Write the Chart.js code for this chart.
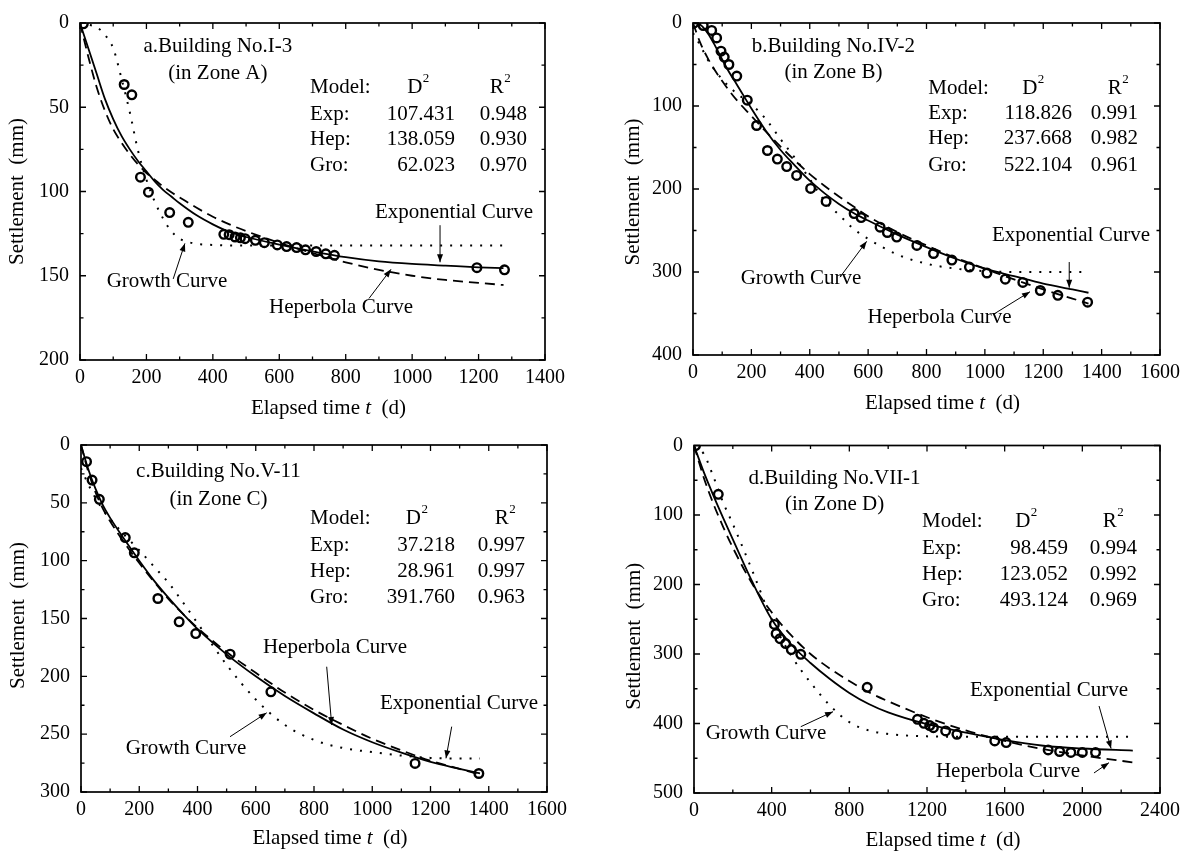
<!DOCTYPE html>
<html>
<head>
<meta charset="utf-8">
<title>Settlement versus elapsed time</title>
<script src="https://cdn.jsdelivr.net/npm/chart.js@4.4.1/dist/chart.umd.min.js"></script>
<style>
  html, body { margin: 0; padding: 0; background: #ffffff; }
  body { width: 1192px; height: 858px; position: relative; overflow: hidden; }
  canvas { position: absolute; }
</style>
</head>
<body>
<canvas id="panelA" width="596" height="430" style="left:0px;top:0px"></canvas>
<canvas id="panelB" width="596" height="430" style="left:596px;top:0px"></canvas>
<canvas id="panelC" width="596" height="438" style="left:0px;top:420px"></canvas>
<canvas id="panelD" width="596" height="438" style="left:596px;top:420px"></canvas>
<script>
// ---------- measured settlement (t in days, s in mm) ----------
const obsTimeA   = [10, 133, 156, 182, 206, 270, 326, 433, 449, 467, 483, 497, 528, 555, 594, 622, 652, 679, 711, 740, 766, 1195, 1278];
const obsSettleA = [0.5, 36.5, 42.6, 91.5, 100.4, 112.5, 118.3, 125.4, 125.6, 127, 127.5, 128, 129, 130.4, 131.7, 132.7, 133.3, 134.6, 135.6, 137, 137.9, 145.2, 146.5];

const obsTimeB   = [3, 35, 64, 81, 96, 107, 123, 150, 186, 218, 255, 289, 321, 355, 403, 456, 552, 576, 641, 666, 698, 767, 824, 887, 947, 1007, 1070, 1130, 1190, 1250, 1352];
const obsSettleB = [0, 3, 9, 18, 34, 41, 50, 64, 93, 123.5, 153.6, 164, 173, 183.6, 199.3, 215, 229.6, 234.4, 246, 252.4, 257.9, 268, 277.7, 285.6, 294, 301.2, 308.6, 312.5, 322.3, 328.1, 336.3];

const obsTimeC   = [19, 38, 63, 152, 183, 264, 337, 394, 512, 652, 1147, 1366];
const obsSettleC = [14.4, 30.3, 47, 80, 93.2, 132.7, 152.9, 163, 180.8, 213.4, 275.3, 284];

const obsTimeD   = [8, 125, 414, 423, 443, 472, 501, 550, 892, 1151, 1184, 1214, 1233, 1296, 1354, 1549, 1608, 1824, 1883, 1941, 2000, 2068];
const obsSettleD = [0, 70.2, 257.4, 270.8, 278, 285, 293.7, 300.4, 348, 394, 399.7, 403, 406, 410.7, 415.5, 425, 427.4, 438, 440.3, 441.7, 441.7, 441.7];

// ---------- fitted curves: exponential, hyperbola, growth ----------
const fitTimeA = [0, 25, 50, 75, 100, 125, 150, 175, 200, 225, 250, 275, 300, 350, 400, 450, 500, 600, 700, 800, 900, 1000, 1100, 1200, 1275];
const expA = [0, 15, 30, 45, 57, 67, 75, 82, 88, 94, 99, 103, 107, 114, 119.5, 124, 127, 131.5, 135.5, 139, 141.5, 143, 144, 145, 145.5];
const hepA = [0, 20, 38, 52, 63, 71, 78, 84, 89, 93, 97, 100.5, 103.5, 109.5, 115, 119.5, 123.5, 130.5, 136.5, 142, 146.5, 150, 152.5, 154.2, 155.5];
const groA = [0.3, 1, 2.5, 7, 15, 33, 53, 76, 93, 106, 116, 123.5, 128, 131, 131.7, 132, 132, 132, 132, 132, 132, 132, 132, 132, 132];

const fitTimeB = [0, 25, 50, 75, 100, 125, 150, 200, 250, 300, 350, 400, 450, 500, 550, 600, 700, 800, 900, 1000, 1100, 1200, 1300, 1355];
const expB = [0, 2, 12, 27, 44, 60, 74, 103, 130, 153, 172, 190, 205, 218, 229, 238, 255, 270, 284, 296, 305, 314, 321, 325];
const hepB = [0, 24, 42, 57, 70, 82, 93, 112, 131, 149, 166, 182, 196, 209, 221, 233, 252, 268, 283, 296, 309, 321, 332, 338];
const groB = [12, 27, 44, 57, 68, 77, 85, 98, 116, 140, 163, 188, 214, 231, 248, 260, 279, 290, 296, 299, 300, 300, 300, 300];

const fitTimeC = [0, 25, 50, 75, 100, 150, 200, 250, 300, 350, 400, 500, 600, 700, 800, 900, 1000, 1100, 1200, 1300, 1370];
const expC = [0, 21, 38, 52, 63, 82, 100, 117, 132, 146, 159, 181, 200, 217, 232, 246, 257, 266, 274, 280, 284];
const hepC = [0, 23, 41, 55, 66, 85, 102, 118, 133, 146, 158, 179, 197, 214, 229, 242, 254, 264, 273, 280, 285];
const groC = [20, 34, 46, 56, 64, 78, 91, 105, 119, 136, 154, 190, 220, 242, 255, 262, 265.5, 268.5, 270.5, 271, 271];

const fitTimeD = [0, 50, 100, 150, 200, 300, 400, 500, 600, 700, 800, 900, 1000, 1200, 1400, 1600, 1800, 2000, 2260];
const expD = [0, 38, 72, 104, 135, 196, 250, 286, 313, 336, 356, 372, 384, 401, 413, 424, 432, 436, 439];
const hepD = [0, 46, 84, 117, 147, 199, 240, 273, 300, 321, 339, 355, 368, 391, 410, 425, 437, 446, 456];
const groD = [2, 12, 45, 82, 113, 180, 250, 302, 341, 374, 398, 410, 415, 418.5, 419, 419, 419, 419, 419];

// ---------- axis ticks ----------
const xTicksA = [0, 200, 400, 600, 800, 1000, 1200, 1400];
const yTicksA = [0, 50, 100, 150, 200];
const xTicksB = [0, 200, 400, 600, 800, 1000, 1200, 1400, 1600];
const yTicksB = [0, 100, 200, 300, 400];
const xTicksC = [0, 200, 400, 600, 800, 1000, 1200, 1400, 1600];
const yTicksC = [0, 50, 100, 150, 200, 250, 300];
const xTicksD = [0, 400, 800, 1200, 1600, 2000, 2400];
const yTicksD = [0, 100, 200, 300, 400, 500];

// ---------- fit statistics ----------
const modelNames = ['Exp:', 'Hep:', 'Gro:'];
const d2A = ['107.431', '138.059', '62.023'];
const r2A = ['0.948', '0.930', '0.970'];
const d2B = ['118.826', '237.668', '522.104'];
const r2B = ['0.991', '0.982', '0.961'];
const d2C = ['37.218', '28.961', '391.760'];
const r2C = ['0.997', '0.997', '0.963'];
const d2D = ['98.459', '123.052', '493.124'];
const r2D = ['0.994', '0.992', '0.969'];

// ---------- captions ----------
const titleA = ['a.Building No.I-3', '(in Zone A)'];
const titleB = ['b.Building No.IV-2', '(in Zone B)'];
const titleC = ['c.Building No.V-11', '(in Zone C)'];
const titleD = ['d.Building No.VII-1', '(in Zone D)'];
const curveNames = { exp: 'Exponential Curve', hep: 'Heperbola Curve', gro: 'Growth Curve' };

// ---------- layout (page pixels) and annotation anchors (data units) ----------
const FONT = '"Liberation Serif", "Times New Roman", Times, serif';

const panels = [
  {
    id: 'panelA', box: [0, 0, 596, 430], area: [80, 13.3, 545, 360], xMax: 1400, yMax: 200,
    xTicks: xTicksA, yTicks: yTicksA,
    obs: [obsTimeA, obsSettleA], fit: [fitTimeA, expA, hepA, groA],
    title: titleA, stats: [d2A, r2A],
    titleAt: { t: 415, s: [14.2, 29.8] },
    tableAt: { t: 692.5, dCol: 1017.6, rCol: 1264.5, dRight: 1129, rRight: 1345.8, s: [38.5, 54.1, 69.1, 84.6] },
    notes: [
      { key: 'exp', t: 1126, s: 112.3, tail: [1084, 120], head: [1084, 142] },
      { key: 'gro', t: 262, s: 153.3, tail: [280.6, 151.9], head: [315.8, 130.8] },
      { key: 'hep', t: 785.8, s: 168.7, tail: [870, 163.5], head: [936.3, 146.2] }
    ],
    yTitle: { dx: -63, dy: 0 }, xTitle: { dx: 16, dy: 48 }
  },
  {
    id: 'panelB', box: [596, 0, 596, 430], area: [693, 14, 1160, 355], xMax: 1600, yMax: 400,
    xTicks: xTicksB, yTicks: yTicksB,
    obs: [obsTimeB, obsSettleB], fit: [fitTimeB, expB, hepB, groB],
    title: titleB, stats: [d2B, r2B],
    titleAt: { t: 481, s: [28.2, 59.8] },
    tableAt: { t: 806, dCol: 1165, rCol: 1456, dRight: 1298.5, rRight: 1524.6, s: [78.6, 109.1, 139.6, 171.3] },
    notes: [
      { key: 'exp', t: 1295, s: 256, tail: [1289, 288], head: [1289, 319] },
      { key: 'gro', t: 370, s: 308.2, tail: [503.6, 306.2], head: [595, 263.1] },
      { key: 'hep', t: 844.5, s: 355.1, tail: [1028.9, 351.1], head: [1154.6, 323.8] }
    ],
    yTitle: { dx: -60, dy: 3 }, xTitle: { dx: 16, dy: 48 }
  },
  {
    id: 'panelC', box: [0, 420, 596, 438], area: [81, 445, 547, 792], xMax: 1600, yMax: 300,
    xTicks: xTicksC, yTicks: yTicksC,
    obs: [obsTimeC, obsSettleC], fit: [fitTimeC, expC, hepC, groC],
    title: titleC, stats: [d2C, r2C],
    titleAt: { t: 472, s: [23.1, 46.9] },
    tableAt: { t: 786.3, dCol: 1152.6, rCol: 1455.8, dRight: 1284, rRight: 1524.5, s: [63.4, 86.5, 109.5, 132] },
    notes: [
      { key: 'hep', t: 872, s: 174.9, tail: [843.6, 191.7], head: [860.8, 242.1] },
      { key: 'exp', t: 1297.9, s: 223.3, tail: [1272.8, 243.5], head: [1253.2, 270.9] },
      { key: 'gro', t: 360.5, s: 262.2, tail: [511.6, 252.2], head: [637.6, 231.5] }
    ],
    yTitle: { dx: -63, dy: -3 }, xTitle: { dx: 16, dy: 46 }
  },
  {
    id: 'panelD', box: [596, 420, 596, 438], area: [694, 445.5, 1160, 793], xMax: 2400, yMax: 500,
    xTicks: xTicksD, yTicks: yTicksD,
    obs: [obsTimeD, obsSettleD], fit: [fitTimeD, expD, hepD, groD],
    title: titleD, stats: [d2D, r2D],
    titleAt: { t: 724, s: [47.2, 84.6] },
    tableAt: { t: 1174.2, dCol: 1710, rCol: 2158, dRight: 1926, rRight: 2281.5, s: [109.6, 147.9, 186.3, 223.7] },
    notes: [
      { key: 'exp', t: 1828, s: 351.8, tail: [2086, 374.8], head: [2148, 436] },
      { key: 'hep', t: 1617, s: 469.4, tail: [2060, 471.2], head: [2137, 456.4] },
      { key: 'gro', t: 370.8, s: 414.1, tail: [550, 404.6], head: [716, 383] }
    ],
    yTitle: { dx: -60, dy: 17 }, xTitle: { dx: 16, dy: 47 }
  }
];

function points(times, vals) {
  return times.map((t, i) => ({ x: t, y: vals[i] }));
}

// frame, inward ticks, captions, statistics table, arrows and axis titles
function makeDecor(p) {
  return {
    id: 'decor' + p.id,
    afterDatasetsDraw(chart) {
      const ctx = chart.ctx, a = chart.chartArea;
      const xs = chart.scales.x, ys = chart.scales.y;
      const X = v => xs.getPixelForValue(v);
      const Y = v => ys.getPixelForValue(v);
      ctx.save();
      ctx.strokeStyle = '#000';
      ctx.fillStyle = '#000';

      const major = 6, minor = 3.5;
      ctx.lineWidth = 1.3;
      const tickX = (v, len) => {
        const x = X(v);
        ctx.beginPath();
        ctx.moveTo(x, a.bottom); ctx.lineTo(x, a.bottom - len);
        ctx.moveTo(x, a.top); ctx.lineTo(x, a.top + len);
        ctx.stroke();
      };
      const tickY = (v, len) => {
        const y = Y(v);
        ctx.beginPath();
        ctx.moveTo(a.left, y); ctx.lineTo(a.left + len, y);
        ctx.moveTo(a.right, y); ctx.lineTo(a.right - len, y);
        ctx.stroke();
      };
      p.xTicks.forEach(v => tickX(v, major));
      for (let i = 0; i < p.xTicks.length - 1; i++) tickX((p.xTicks[i] + p.xTicks[i + 1]) / 2, minor);
      p.yTicks.forEach(v => tickY(v, major));
      for (let i = 0; i < p.yTicks.length - 1; i++) tickY((p.yTicks[i] + p.yTicks[i + 1]) / 2, minor);

      ctx.lineWidth = 1.7;
      ctx.strokeRect(a.left, a.top, a.right - a.left, a.bottom - a.top);

      const big = '21px ' + FONT, small = '13px ' + FONT;
      ctx.textBaseline = 'middle';

      // building caption
      ctx.font = big;
      ctx.textAlign = 'center';
      ctx.fillText(p.title[0], X(p.titleAt.t), Y(p.titleAt.s[0]));
      ctx.fillText(p.title[1], X(p.titleAt.t), Y(p.titleAt.s[1]));

      // statistics table
      const tb = p.tableAt;
      const sup = (base, s, cx, cy) => {
        ctx.font = big; const w1 = ctx.measureText(base).width;
        ctx.font = small; const w2 = ctx.measureText(s).width;
        const x0 = cx - (w1 + w2) / 2;
        ctx.textAlign = 'left';
        ctx.font = big; ctx.fillText(base, x0, cy);
        ctx.font = small; ctx.fillText(s, x0 + w1 + 0.5, cy - 9);
      };
      ctx.font = big;
      ctx.textAlign = 'left';
      ctx.fillText('Model:', X(tb.t), Y(tb.s[0]));
      sup('D', '2', X(tb.dCol), Y(tb.s[0]));
      sup('R', '2', X(tb.rCol), Y(tb.s[0]));
      ctx.font = big;
      for (let i = 0; i < modelNames.length; i++) {
        const y = Y(tb.s[i + 1]);
        ctx.textAlign = 'left';
        ctx.fillText(modelNames[i], X(tb.t), y);
        ctx.textAlign = 'right';
        ctx.fillText(p.stats[0][i], X(tb.dRight), y);
        ctx.fillText(p.stats[1][i], X(tb.rRight), y);
      }

      // curve labels with arrows
      const arrow = (x1, y1, x2, y2) => {
        ctx.lineWidth = 1;
        ctx.beginPath(); ctx.moveTo(x1, y1); ctx.lineTo(x2, y2); ctx.stroke();
        const ang = Math.atan2(y2 - y1, x2 - x1), len = 8, half = 3;
        const bx = x2 - len * Math.cos(ang), by = y2 - len * Math.sin(ang);
        ctx.beginPath();
        ctx.moveTo(x2, y2);
        ctx.lineTo(bx + half * Math.sin(ang), by - half * Math.cos(ang));
        ctx.lineTo(bx - half * Math.sin(ang), by + half * Math.cos(ang));
        ctx.closePath(); ctx.fill();
      };
      p.notes.forEach(n => {
        ctx.font = big;
        ctx.textAlign = 'center';
        ctx.fillText(curveNames[n.key], X(n.t), Y(n.s));
        arrow(X(n.tail[0]), Y(n.tail[1]), X(n.head[0]), Y(n.head[1]));
      });

      // y-axis title
      ctx.save();
      ctx.translate(a.left + p.yTitle.dx, (a.top + a.bottom) / 2 + p.yTitle.dy);
      ctx.rotate(-Math.PI / 2);
      ctx.font = big;
      ctx.textAlign = 'center';
      ctx.fillText('Settlement  (mm)', 0, 0);
      ctx.restore();

      // x-axis title with italic t
      const parts = [['Elapsed time ', big], ['t', 'italic ' + big], ['  (d)', big]];
      let total = 0;
      parts.forEach(pt => { ctx.font = pt[1]; total += ctx.measureText(pt[0]).width; });
      let x = (a.left + a.right) / 2 + p.xTitle.dx - total / 2;
      const y = a.bottom + p.xTitle.dy;
      ctx.textAlign = 'left';
      parts.forEach(pt => { ctx.font = pt[1]; ctx.fillText(pt[0], x, y); x += ctx.measureText(pt[0]).width; });

      ctx.restore();
    }
  };
}

function buildPanel(p) {
  const [cx, cy, cw, ch] = p.box;
  const [L, T, R, B] = p.area;
  const yBand = L - cx;
  const xBand = 40;
  const tickFont = { family: FONT, size: 20 };
  const [ft, ex, hp, gr] = p.fit;

  const lineSet = (vals, dash, width) => ({
    type: 'line',
    data: points(ft, vals),
    borderColor: '#000',
    borderWidth: width,
    borderDash: dash,
    borderCapStyle: 'butt',
    pointRadius: 0,
    fill: false,
    cubicInterpolationMode: 'monotone',
    order: 2
  });

  new Chart(document.getElementById(p.id), {
    type: 'scatter',
    data: {
      datasets: [
        {
          type: 'scatter',
          data: points(p.obs[0], p.obs[1]),
          pointStyle: 'circle',
          pointRadius: 4.3,
          pointBorderWidth: 2.4,
          pointBorderColor: '#000',
          pointBackgroundColor: 'rgba(0,0,0,0)',
          order: 0
        },
        lineSet(ex, [], 1.8),
        lineSet(hp, [10, 6], 1.8),
        lineSet(gr, [2, 8], 2)
      ]
    },
    options: {
      responsive: false,
      animation: false,
      devicePixelRatio: 1,
      events: [],
      layout: { padding: { left: 0, top: T - cy, right: cx + cw - R, bottom: cy + ch - B - xBand } },
      plugins: { legend: { display: false }, tooltip: { enabled: false } },
      scales: {
        x: {
          type: 'linear', min: 0, max: p.xMax,
          grid: { display: false, drawTicks: false },
          border: { display: false },
          ticks: { font: tickFont, color: '#000', padding: 6, autoSkip: false, maxRotation: 0, callback: v => String(v) },
          afterBuildTicks: s => { s.ticks = p.xTicks.map(v => ({ value: v })); },
          afterFit: s => { s.height = xBand; }
        },
        y: {
          type: 'linear', reverse: true, min: 0, max: p.yMax,
          grid: { display: false, drawTicks: false },
          border: { display: false },
          ticks: { font: tickFont, color: '#000', padding: 11, autoSkip: false, callback: v => String(v) },
          afterBuildTicks: s => { s.ticks = p.yTicks.map(v => ({ value: v })); },
          afterFit: s => { s.width = yBand; }
        }
      }
    },
    plugins: [makeDecor(p)]
  });
}

panels.forEach(buildPanel);
</script>
</body>
</html>
